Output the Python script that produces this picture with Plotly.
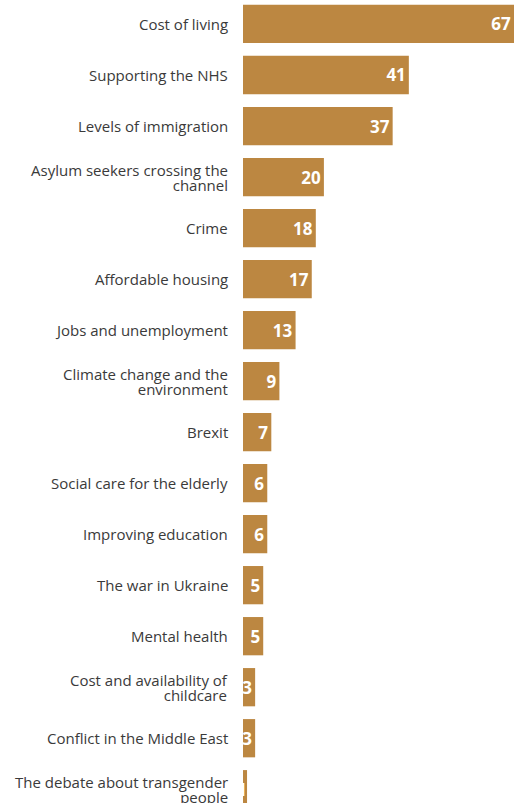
import plotly.graph_objects as go

categories = [
    "Cost of living",
    "Supporting the NHS",
    "Levels of immigration",
    "Asylum seekers crossing the<br>channel",
    "Crime",
    "Affordable housing",
    "Jobs and unemployment",
    "Climate change and the<br>environment",
    "Brexit",
    "Social care for the elderly",
    "Improving education",
    "The war in Ukraine",
    "Mental health",
    "Cost and availability of<br>childcare",
    "Conflict in the Middle East",
    "The debate about transgender<br>people",
]
values = [67, 41, 37, 20, 18, 17, 13, 9, 7, 6, 6, 5, 5, 3, 3, 1]

bar_color = "#BC8741"
label_color = "#3a3a3a"
label_px = 15
line_base = 11.5  # base font size sets line spacing (1.3em ~ 15px)

fig = go.Figure(go.Bar(
    x=values,
    y=categories,
    orientation="h",
    marker=dict(color=bar_color, line=dict(width=0)),
    text=[str(v) for v in values],
    textposition="inside",
    insidetextanchor="end",
    constraintext="none",
    textfont=dict(family="Open Sans", size=17, color="white", weight="bold"),
))

# category labels as annotations: tight line spacing for wrapped labels
for cat in categories:
    lines = cat.split("<br>")
    txt = "<br>".join(
        f'<span style="font-size:{label_px}px">{ln}</span>' for ln in lines
    )
    fig.add_annotation(
        x=0, y=cat, xref="x", yref="y",
        text=txt, showarrow=False,
        xanchor="right", yanchor="middle", align="right",
        xshift=-13,
        font=dict(family="Open Sans", size=line_base, color=label_color),
    )

fig.update_layout(
    width=514, height=803,
    margin=dict(l=243, r=0, t=0, b=0),
    paper_bgcolor="white", plot_bgcolor="white",
    bargap=0.25,
    showlegend=False,
    font=dict(family="Open Sans", size=14, color=label_color),
)
fig.update_xaxes(range=[0, 67], visible=False, fixedrange=True)
fig.update_yaxes(
    range=[15.27, -0.47],
    showgrid=False, zeroline=False, showline=False,
    ticks="", showticklabels=False, fixedrange=True,
)

fig.write_html(
    "out.html",
    config={"displayModeBar": False},
    post_script="document.body.style.margin='0';document.body.style.overflow='hidden';",
)
